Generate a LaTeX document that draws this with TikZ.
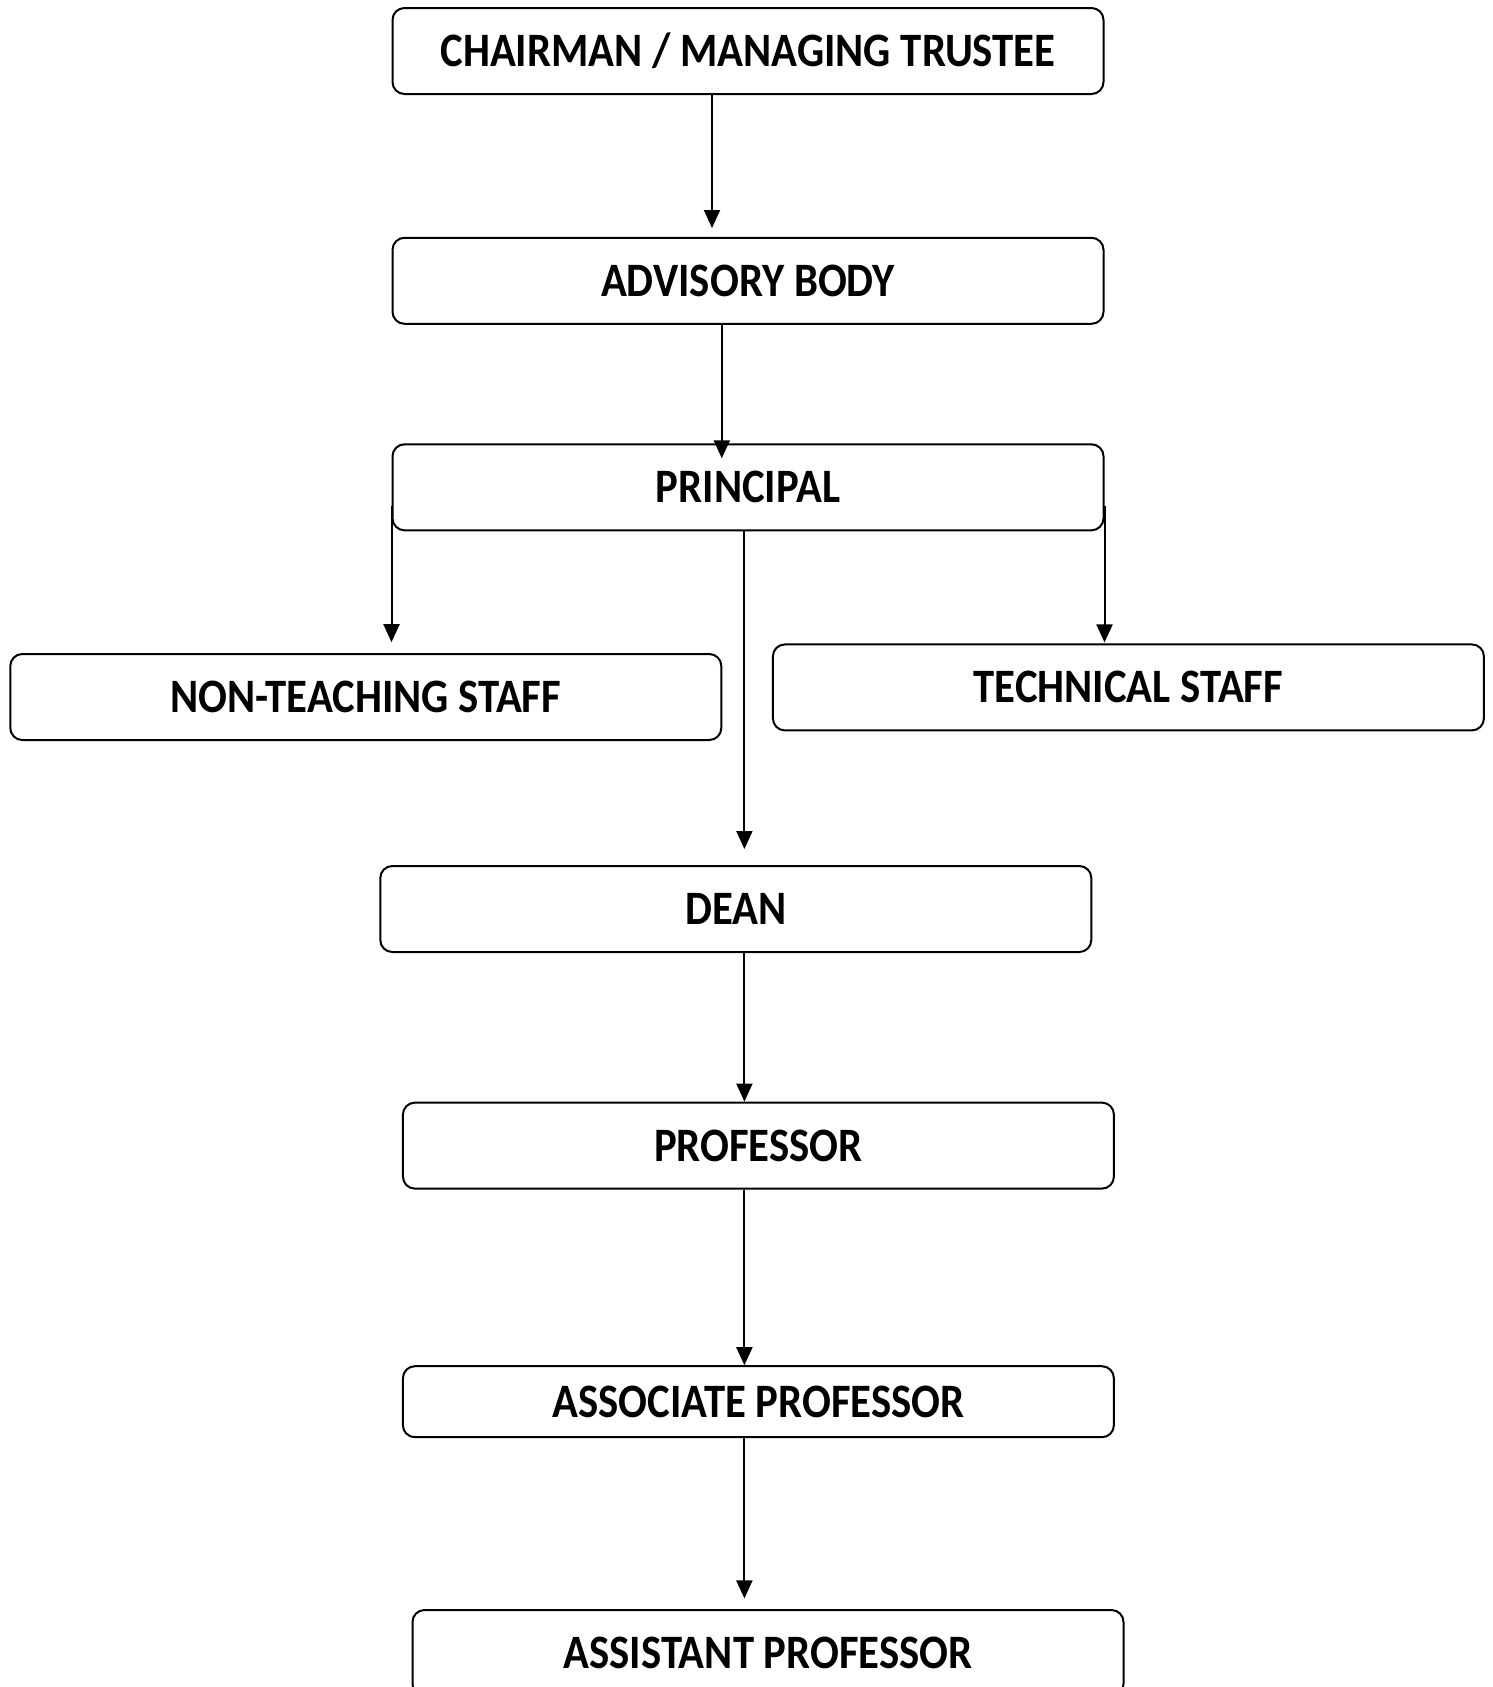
\documentclass[tikz,border=0pt]{standalone}
\usepackage{fontspec}
\newfontfamily\boxfont{Carlito}[FakeStretch=0.89]
\usetikzlibrary{arrows.meta,calc}

\begin{document}
\begin{tikzpicture}[x=0.5pt,y=-0.5pt]
	\tikzstyle{post} = [rectangle, draw, rounded corners=6pt, line width=1pt, minimum width=355.5pt, minimum height=43pt, inner sep=0pt, font=\boxfont\fontsize{24}{28}\selectfont\bfseries]
	\tikzstyle{link} = [line width=1pt, -{Triangle[width=8pt,length=9pt]}]

	\useasboundingbox (0,0) rectangle (1493,1687);

	% Management
	\node (chairman) [post] at (748,51) {CHAIRMAN / MANAGING TRUSTEE};
	\node (advisory) [post] at (748,280.8) {ADVISORY BODY};
	\node (principal) [post] at (748,487.3) {PRINCIPAL};
	% Staff
	\node (nonteaching) [post] at (365.8,697) {NON-TEACHING STAFF};
	\node (technical) [post] at (1128.4,687.4) {TECHNICAL STAFF};
	% Faculty
	\node (dean) [post] at (735.8,909) {DEAN};
	\node (professor) [post] at (758.4,1145.6) {PROFESSOR};
	\node (associate) [post, minimum height=35.5pt] at (758.4,1401.7) {ASSOCIATE PROFESSOR};
	\node (assistant) [post] at (768,1653) {ASSISTANT PROFESSOR};

	\coordinate (spine) at (744.4,0);

	\draw[link] ([xshift=-18pt]chairman.south) -- ([xshift=-18pt,yshift=4.4pt]advisory.north);
	\draw[link] ([xshift=-13.1pt]advisory.south) -- ([xshift=-13.1pt,yshift=-7.5pt]principal.north);
	\draw[link] ([yshift=-9.2pt]principal.west) -- ($(principal.west |- nonteaching.north)+(0,5.4pt)$);
	\draw[link] ([yshift=-9.2pt]principal.east) -- ($(principal.east |- technical.north)+(0,0.5pt)$);
	\draw[link] (principal.south -| spine) -- ($(dean.north -| spine)+(0,8pt)$);
	\draw[link] (dean.south -| spine) -- (professor.north -| spine);
	\draw[link] (professor.south -| spine) -- (associate.north -| spine);
	\draw[link] (associate.south -| spine) -- ($(assistant.north -| spine)+(0,5.3pt)$);
\end{tikzpicture}
\end{document}
